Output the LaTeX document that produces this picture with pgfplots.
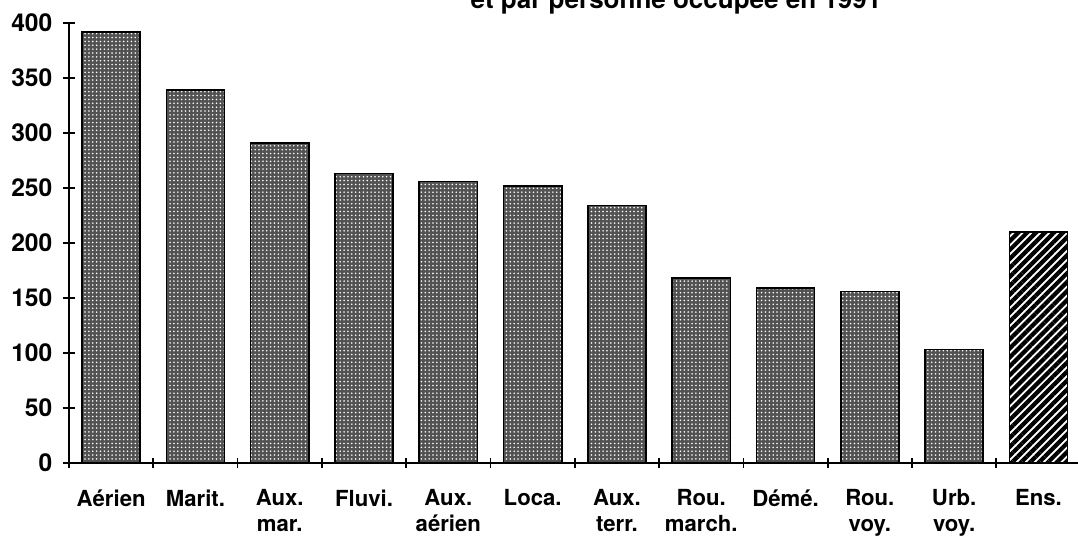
\documentclass[border=0pt]{standalone}
\usepackage{fontspec}
\setmainfont{TeX Gyre Heros}
\usepackage{pgfplots}
\pgfplotsset{compat=1.18}
\usetikzlibrary{patterns.meta}
\begin{document}
\begin{tikzpicture}
\begin{axis}[
  at={(0,0)}, anchor=south west,
  scale only axis, width=20.232cm, height=8.8cm,
  xmin=-0.5, xmax=11.5, ymin=0, ymax=400,
  axis x line=bottom, axis y line=left,
  axis line style={-, line width=1.1pt},
  ybar, bar width=0.69, bar shift=0pt,
  ytick={0,50,...,400},
  xtick={0,...,11},
  xticklabels={{Aérien},{Marit.},{Aux.\\mar.},{Fluvi.},{Aux.\\aérien},{Loca.},{Aux.\\terr.},{Rou.\\march.},{Démé.},{Rou.\\voy.},{Urb.\\voy.},{Ens.}},
  major x tick style={draw=none},
  minor xtick={-0.5,0.5,...,10.5},
  tick align=center,
  major tick length=0.26cm,
  minor tick length=0.2cm,
  tick style={line width=1pt, black},
  /pgf/number format/assume math mode=true,
  yticklabel style={font=\bfseries\fontsize{14}{16}\selectfont, xshift=-0.08cm},
  xticklabel style={font=\bfseries\fontsize{12.6}{14.5}\selectfont, align=center, anchor=north, yshift=-0.28cm},
]
\addplot[draw=black, line width=0.9pt, fill=black!68, postaction={pattern={Dots[distance=2.2pt, radius=0.5pt]}, pattern color=white}]
  coordinates {(0,392) (1,339) (2,291) (3,263) (4,256) (5,252) (6,234) (7,168) (8,159) (9,156) (10,103)};
\addplot[draw=black, line width=0.9pt, fill=white, postaction={pattern={Lines[angle=45, distance=3.6pt, line width=2.4pt]}, pattern color=black}]
  coordinates {(11,210)};
\end{axis}
\node[anchor=base, font=\bfseries\fontsize{14.8}{18}\selectfont] at (12.14cm, 9.08cm) {et par personne occupée en 1991};
\pgfresetboundingbox
\useasboundingbox (-1.38cm,-1.62cm) rectangle (20.18cm,9.26cm);
\end{tikzpicture}
\end{document}
